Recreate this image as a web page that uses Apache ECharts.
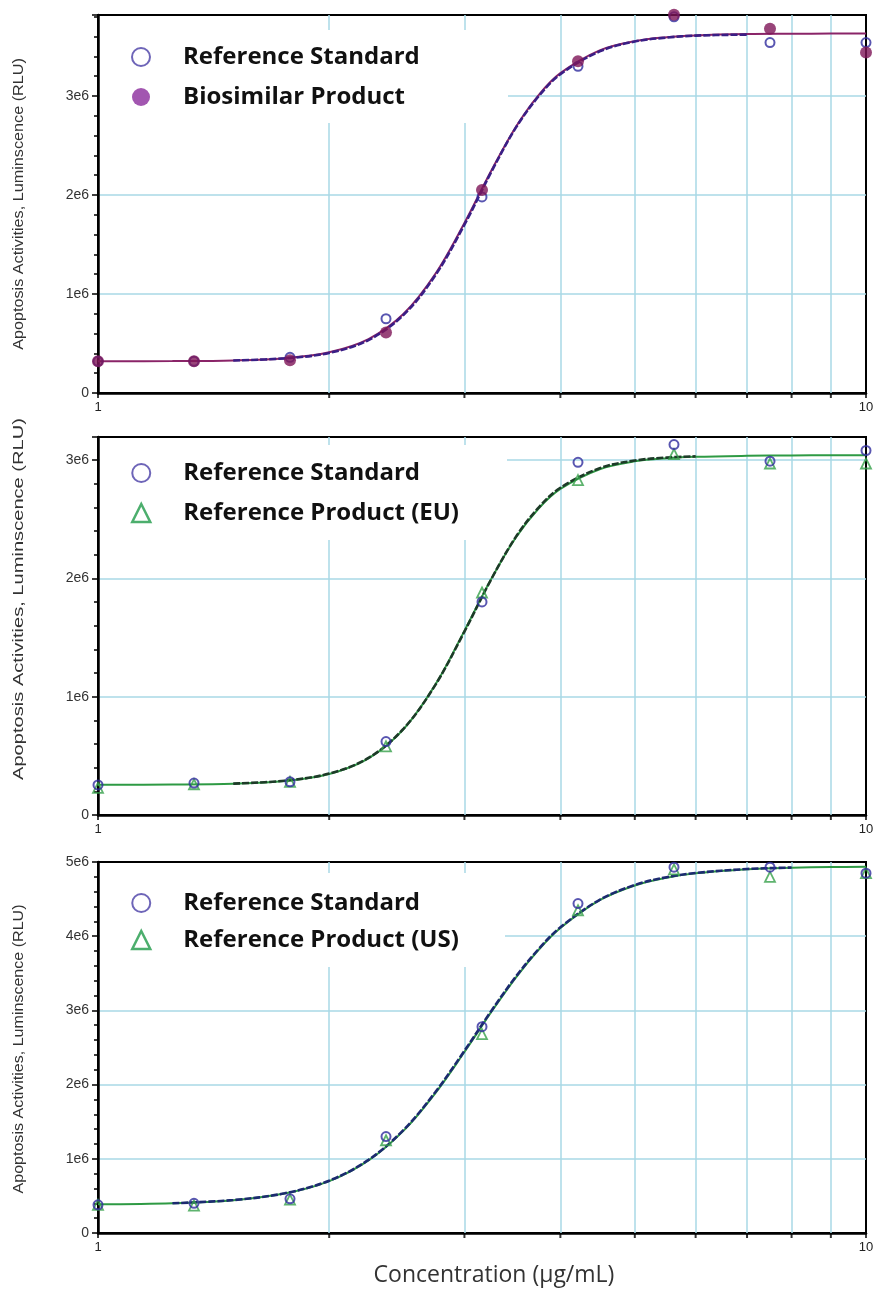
<!DOCTYPE html>
<html>
<head>
<meta charset="utf-8">
<script src="https://cdn.jsdelivr.net/npm/echarts@6/dist/echarts.min.js"></script>
<style>
  html, body { margin: 0; padding: 0; background: #fff; }
  #chart { width: 880px; height: 1289px; }
</style>
</head>
<body>
<div id="chart"></div>
<script>
// Concentrations tested (µg/mL)
const conc = [1, 1.3335, 1.7783, 2.3714, 3.1623, 4.2170, 5.6234, 7.4989, 10];

// Measured luminescence, in units of 1e6 RLU
const refStdA  = [0.32, 0.32, 0.36, 0.75, 1.98, 3.30, 3.80, 3.54, 3.54];
const biosimA  = [0.32, 0.32, 0.33, 0.61, 2.05, 3.35, 3.82, 3.68, 3.44];
const refStdB  = [0.254, 0.27, 0.28, 0.62, 1.80, 2.98, 3.13, 2.99, 3.08];
const euB      = [0.23, 0.26, 0.28, 0.58, 1.88, 2.83, 3.05, 2.97, 2.97];
const refStdC  = [0.38, 0.40, 0.46, 1.30, 2.78, 4.44, 4.93, 4.93, 4.85];
const usC      = [0.38, 0.37, 0.45, 1.25, 2.68, 4.35, 4.90, 4.80, 4.85];

// Fitted dose-response curves (1e6 RLU) at these concentrations
const fitX     = [1, 1.25, 1.5, 1.75, 2, 2.25, 2.5, 2.75, 3, 3.25, 3.5, 3.75, 4, 4.5, 5, 5.5, 6, 7, 8, 9, 10];
const fitBioA  = [0.320, 0.322, 0.329, 0.352, 0.412, 0.545, 0.800, 1.204, 1.717, 2.243, 2.687, 3.012, 3.231, 3.461, 3.554, 3.594, 3.612, 3.625, 3.628, 3.630, 3.630];
const fitRefA  = [null, null, 0.329, 0.350, 0.405, 0.535, 0.790, 1.190, 1.700, 2.230, 2.680, 3.000, 3.220, 3.450, 3.550, 3.590, 3.610, 3.620, null, null, null];
const fitEuB   = [0.255, 0.257, 0.264, 0.287, 0.347, 0.479, 0.726, 1.102, 1.556, 1.993, 2.345, 2.592, 2.755, 2.921, 2.988, 3.015, 3.027, 3.035, 3.038, 3.040, 3.040];
const fitRefB  = [null, null, 0.265, 0.290, 0.350, 0.482, 0.730, 1.100, 1.550, 1.990, 2.350, 2.600, 2.765, 2.930, 2.995, 3.020, 3.030, null, null, null, null];
const fitUsC   = [0.386, 0.401, 0.442, 0.531, 0.699, 0.978, 1.380, 1.886, 2.440, 2.976, 3.443, 3.820, 4.111, 4.485, 4.684, 4.789, 4.849, 4.903, 4.923, 4.932, 4.935];
const fitRefC  = [null, 0.401, 0.444, 0.535, 0.705, 0.985, 1.390, 1.900, 2.455, 2.990, 3.455, 3.830, 4.120, 4.490, 4.690, 4.795, 4.852, 4.905, 4.925, null, null];

// Axis settings
const minorX = [2, 3, 4, 5, 6, 7, 8, 9];
const yMax = [3.818, 3.194, 5];
const legendNames = [
  ['Reference Standard', 'Biosimilar Product'],
  ['Reference Standard', 'Reference Product (EU)'],
  ['Reference Standard', 'Reference Product (US)']
];
const yTitle = 'Apoptosis Activities, Luminscence (RLU)';
const xTitle = 'Concentration (µg/mL)';

const grids = [
  { left: 98, width: 768, top: 15, height: 378 },
  { left: 98, width: 768, top: 437, height: 378 },
  { left: 98, width: 768, top: 862, height: 371 }
];

const gridBlue = '#a9d8e6';
const zip = (xs, ys) => xs.map((x, i) => [x, ys[i]]).filter(p => p[1] !== null && p[1] !== undefined);

const panels = [
  { fitP: fitBioA, fitR: fitRefA, ptsR: refStdA, ptsP: biosimA,
    colP: '#7e1558', colR: '#2f2c9e', curveP: '#8a2468', curveR: '#3a1f86', kind: 'bio' },
  { fitP: fitEuB, fitR: fitRefB, ptsR: refStdB, ptsP: euB,
    colP: '#36a04a', colR: '#2f2c9e', curveP: '#2e9a44', curveR: '#1d3b28', kind: 'tri' },
  { fitP: fitUsC, fitR: fitRefC, ptsR: refStdC, ptsP: usC,
    colP: '#36a04a', colR: '#2f2c9e', curveP: '#2e9a44', curveR: '#1c2a70', kind: 'tri' }
];

const xAxes = [], yAxes = [], series = [], legends = [], graphics = [];

panels.forEach((p, i) => {
  xAxes.push({
    gridIndex: i, type: 'log', logBase: 10, min: 1, max: 10,
    axisLine: { lineStyle: { color: '#000', width: 2.5 } },
    axisTick: { length: 5, lineStyle: { color: '#000', width: 1.5 } },
    axisLabel: { color: '#222', fontSize: 13, fontFamily: 'Liberation Sans', margin: 8 },
    splitLine: { show: false }
  });
  yAxes.push({
    gridIndex: i, type: 'value', min: 0, max: yMax[i], interval: 1,
    axisLine: { show: true, lineStyle: { color: '#000', width: 2.5 } },
    axisTick: { show: true, length: 6, lineStyle: { color: '#000', width: 1.5 } },
    minorTick: { show: true, splitNumber: 5, length: 4, lineStyle: { color: '#000', width: 1.5 } },
    axisLabel: {
      color: '#333', fontSize: 14, fontFamily: 'Liberation Sans', margin: 9,
      showMaxLabel: i === 2,
      formatter: v => (v === 0 ? '0' : v + 'e6')
    },
    splitLine: { show: true, showMinLine: false, showMaxLine: false,
                 lineStyle: { color: gridBlue, width: 1.5 } }
  });

  // vertical log grid lines at 2..9 plus the tick marks on the x axis
  series.push({
    type: 'scatter', xAxisIndex: i, yAxisIndex: i, z: 1, silent: true,
    data: minorX.map(v => [v, 0]), symbol: 'rect', symbolSize: [2, 4], symbolOffset: [0, 3],
    itemStyle: { color: '#000' }, clip: false,
    markLine: {
      z: 1, silent: true, symbol: ['none', 'none'], label: { show: false },
      lineStyle: { color: gridBlue, width: 1.5, type: 'solid' },
      data: minorX.map(v => ({ xAxis: v }))
    }
  });

  // fitted curves
  series.push({
    type: 'line', xAxisIndex: i, yAxisIndex: i, z: 2, silent: true,
    data: zip(fitX, p.fitP), smooth: 0.35, showSymbol: false,
    lineStyle: { color: p.curveP, width: 2 }
  });
  series.push({
    type: 'line', xAxisIndex: i, yAxisIndex: i, z: 2, silent: true,
    data: zip(fitX, p.fitR), smooth: 0.35, showSymbol: false,
    lineStyle: { color: p.curveR, width: 2.6, type: [7, 2] }
  });

  const refSeries = {
    name: legendNames[i][0], type: 'scatter', xAxisIndex: i, yAxisIndex: i, z: 3, clip: false,
    data: zip(conc, p.ptsR), symbol: 'circle', symbolSize: 9,
    itemStyle: { color: 'rgba(255,255,255,0)', borderColor: p.colR, borderWidth: 2 }
  };
  let prodSeries;
  if (p.kind === 'bio') {
    prodSeries = {
      name: legendNames[i][1], type: 'scatter', xAxisIndex: i, yAxisIndex: i, z: 3, clip: false,
      data: zip(conc, p.ptsP), symbol: 'circle', symbolSize: 12,
      itemStyle: { color: p.colP }
    };
    series.push(refSeries, prodSeries);
  } else {
    prodSeries = {
      name: legendNames[i][1], type: 'scatter', xAxisIndex: i, yAxisIndex: i, z: 3, clip: false,
      data: zip(conc, p.ptsP), symbol: 'triangle', symbolSize: 10,
      itemStyle: { color: 'rgba(255,255,255,0)', borderColor: p.colP, borderWidth: 1.8 }
    };
    series.push(prodSeries, refSeries);
  }

  const lgTop = [44, 460, 890][i];
  const gap = [14, 14, 11][i];
  legends.push({
    orient: 'vertical', left: 131, top: lgTop, padding: 0,
    itemWidth: 18, itemHeight: 18, itemGap: gap,
    selectedMode: false, z: 5,
    textStyle: { fontFamily: 'Open Sans', fontWeight: 'bold', fontSize: 24, color: '#111',
                 lineHeight: 26, padding: [0, 0, 0, 28] },
    data: [
      { name: legendNames[i][0], icon: 'circle',
        itemStyle: { color: '#fff', borderColor: '#4a3ea6', borderWidth: 2 } },
      p.kind === 'bio'
        ? { name: legendNames[i][1], icon: 'circle', itemStyle: { color: '#8b2c9c', borderWidth: 0 } }
        : { name: legendNames[i][1], icon: 'triangle',
            itemStyle: { color: '#fff', borderColor: '#1f9a48', borderWidth: 2.5 } }
    ]
  });

  // white panel behind the legend
  const mask = [[100, 30, 408, 93], [100, 445, 407, 95], [100, 873, 405, 94]][i];
  graphics.push({
    type: 'rect', z: 4, silent: true,
    shape: { x: mask[0], y: mask[1], width: mask[2], height: mask[3] },
    style: { fill: '#fff' }
  });

  // rotated y-axis title
  const yc = [204, 599, 1049][i];
  const stretch = [1.08, 1.34, 1.07][i];
  graphics.push({
    type: 'text', x: 19, y: yc, rotation: Math.PI / 2, scaleX: stretch, z: 5, silent: true,
    style: {
      text: yTitle, fill: '#333', fontSize: 15, fontFamily: 'Liberation Sans',
      align: 'center', verticalAlign: 'middle'
    }
  });
});

graphics.push({
  type: 'text', x: 494, y: 1275, z: 5, silent: true,
  style: {
    text: xTitle, fill: '#333', fontSize: 23, fontFamily: 'Open Sans',
    align: 'center', verticalAlign: 'middle'
  }
});

const chart = echarts.init(document.getElementById('chart'), null, { renderer: 'canvas' });
chart.setOption({
  animation: false,
  backgroundColor: '#fff',
  grid: grids.map(g => Object.assign({ show: true, borderColor: '#000', borderWidth: 2, backgroundColor: 'transparent' }, g)),
  xAxis: xAxes,
  yAxis: yAxes,
  legend: legends,
  graphic: graphics,
  series: series
});
</script>
</body>
</html>
